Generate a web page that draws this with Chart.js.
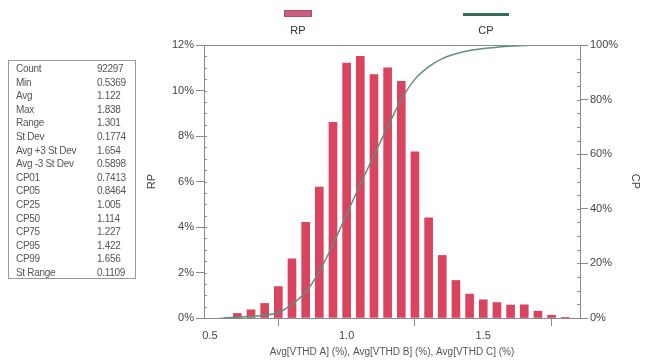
<!DOCTYPE html>
<html>
<head>
<meta charset="utf-8">
<script src="https://cdn.jsdelivr.net/npm/chart.js@4/dist/chart.umd.min.js"></script>
<style>
	html, body { margin: 0; padding: 0; background: #fff; }
	#wrap { position: relative; width: 646px; height: 361px; }
	#stats {
		position: absolute; left: 8px; top: 60px; width: 128px; height: 219px;
		border: 1px solid #9a9a9a; box-sizing: border-box; padding-top: 1px;
		font: 10px "Liberation Sans", Arial, sans-serif; color: #555; letter-spacing: -0.3px;
	}
	#stats .row { height: 13.6px; line-height: 13.6px; position: relative; }
	#stats .lbl { position: absolute; left: 7px; }
	#stats .val { position: absolute; left: 88px; }
</style>
</head>
<body>
<div id="wrap">
	<canvas id="rp-chart" width="646" height="361"></canvas>
	<div id="stats"></div>
</div>
<script>
// histogram bins (centre of each 0.05 bin)
var binCenters = [0.55, 0.6, 0.65, 0.7, 0.75, 0.8, 0.85, 0.9, 0.95, 1.0, 1.05, 1.1, 1.15, 1.2, 1.25, 1.3, 1.35, 1.4, 1.45, 1.5, 1.55, 1.6, 1.65, 1.7, 1.75, 1.8];
// relative percentage per bin
var rpValues = [0, 0.2, 0.36, 0.64, 1.38, 2.6, 4.2, 5.75, 8.6, 11.2, 11.5, 10.7, 11.0, 10.4, 7.3, 4.4, 2.75, 1.65, 1.05, 0.8, 0.68, 0.57, 0.58, 0.3, 0.12, 0.03];
// cumulative percentage
var cpValues = [0, 0.3, 0.6, 1.0, 2.0, 5.0, 9.5, 17, 27, 38, 49, 59.5, 70, 80, 87.5, 92, 95, 96.8, 98, 98.7, 99.2, 99.6, 99.8, 100, 100, 100];

var xTickValues = [0.5, 1.0, 1.5];
var rpTickStep = 2;
var cpTickStep = 20;

var statLabels = ["Count", "Min", "Avg", "Max", "Range", "St Dev", "Avg +3 St Dev", "Avg -3 St Dev", "CP01", "CP05", "CP25", "CP50", "CP75", "CP95", "CP99", "St Range"];
var statValues = ["92297", "0.5369", "1.122", "1.838", "1.301", "0.1774", "1.654", "0.5898", "0.7413", "0.8464", "1.005", "1.114", "1.227", "1.422", "1.656", "0.1109"];

var axisColor = '#8a8a8a';
var tickFont = { family: 'Liberation Sans', size: 11 };

// summary box on the left
var box = document.getElementById('stats');
statLabels.forEach(function (lbl, i) {
	var row = document.createElement('div');
	row.className = 'row';
	row.innerHTML = '<span class="lbl">' + lbl + '</span><span class="val">' + statValues[i] + '</span>';
	box.appendChild(row);
});

// top frame line, inner minor ticks and the legend above the plot
var decorations = {
	id: 'decorations',
	afterDraw: function (chart) {
		var ctx = chart.ctx;
		var area = chart.chartArea;
		var y = chart.scales.y, y1 = chart.scales.y1;
		ctx.save();
		ctx.strokeStyle = axisColor;
		ctx.lineWidth = 1;
		ctx.beginPath();
		ctx.moveTo(area.left, Math.round(area.top) + 0.5);
		ctx.lineTo(area.right, Math.round(area.top) + 0.5);
		var v, p;
		for (v = 0; v <= y.max; v += 0.5) {
			p = Math.round(y.getPixelForValue(v)) + 0.5;
			ctx.moveTo(area.left, p);
			ctx.lineTo(area.left + 3, p);
		}
		for (v = 0; v <= y1.max; v += 5) {
			p = Math.round(y1.getPixelForValue(v)) + 0.5;
			ctx.moveTo(area.right - 3, p);
			ctx.lineTo(area.right, p);
		}
		ctx.stroke();

		// legend: marker on top, name underneath
		var w = area.right - area.left;
		var rpX = area.left + w * 0.25;
		var cpX = area.left + w * 0.75;
		ctx.fillStyle = '#c9617e';
		ctx.fillRect(rpX - 14, 10, 28, 7);
		ctx.strokeStyle = '#b14b69';
		ctx.strokeRect(rpX - 13.5, 10.5, 27, 6);
		ctx.strokeStyle = '#2f6f59';
		ctx.lineWidth = 3;
		ctx.beginPath();
		ctx.moveTo(cpX - 23, 14.5);
		ctx.lineTo(cpX + 23, 14.5);
		ctx.stroke();
		ctx.fillStyle = '#333';
		ctx.font = '11px "Liberation Sans"';
		ctx.textAlign = 'center';
		ctx.textBaseline = 'middle';
		ctx.fillText('RP', rpX, 31);
		ctx.fillText('CP', cpX, 31);
		ctx.restore();
	}
};

new Chart('rp-chart', {
	data: {
		datasets: [
			{
				type: 'line',
				label: 'CP',
				data: binCenters.map(function (x, i) { return { x: x, y: cpValues[i] }; }),
				yAxisID: 'y1',
				borderColor: '#5e907f',
				borderWidth: 1.5,
				pointRadius: 0,
				cubicInterpolationMode: 'monotone',
				order: 1
			},
			{
				type: 'bar',
				label: 'RP',
				data: binCenters.map(function (x, i) { return { x: x, y: rpValues[i] }; }),
				yAxisID: 'y',
				backgroundColor: '#da445f',
				borderWidth: 0,
				barThickness: 8,
				order: 2
			}
		]
	},
	options: {
		responsive: false,
		animation: false,
		layout: { padding: { top: 45, left: 145, right: 0, bottom: 0 } },
		plugins: {
			legend: { display: false },
			tooltip: { enabled: false }
		},
		scales: {
			x: {
				type: 'linear',
				min: 0.478,
				max: 1.854,
				offset: false,
				grid: { drawOnChartArea: false, tickLength: 8, color: axisColor },
				border: { color: axisColor },
				afterBuildTicks: function (scale) {
					scale.ticks = xTickValues.map(function (v) { return { value: v }; });
				},
				afterFit: function (scale) { scale.height = 43; },
				ticks: {
					font: tickFont, color: '#444', padding: 3, maxRotation: 0,
					callback: function (v) { return v.toFixed(1); }
				},
				title: {
					display: true,
					text: 'Avg[VTHD A] (%), Avg[VTHD B] (%), Avg[VTHD C] (%)',
					font: { family: 'Liberation Sans', size: 10 },
					color: '#555',
					padding: { top: 0, bottom: 3 }
				}
			},
			y: {
				position: 'left',
				min: 0,
				max: 12,
				grid: { drawOnChartArea: false, tickLength: 8, color: axisColor },
				border: { color: axisColor },
				afterFit: function (scale) { scale.width = 59; },
				ticks: {
					stepSize: rpTickStep, font: tickFont, color: '#444', padding: 2,
					callback: function (v) { return v + '%'; }
				},
				title: { display: true, text: 'RP', font: { family: 'Liberation Sans', size: 11 }, color: '#444', padding: 0 }
			},
			y1: {
				position: 'right',
				min: 0,
				max: 100,
				grid: { drawOnChartArea: false, tickLength: 8, color: axisColor },
				border: { color: axisColor },
				afterFit: function (scale) { scale.width = 66; },
				ticks: {
					stepSize: cpTickStep, font: tickFont, color: '#444', padding: 2,
					callback: function (v) { return v + '%'; }
				},
				title: { display: true, text: 'CP', font: { family: 'Liberation Sans', size: 11 }, color: '#444', padding: 4 }
			}
		}
	},
	plugins: [decorations]
});
</script>
</body>
</html>
